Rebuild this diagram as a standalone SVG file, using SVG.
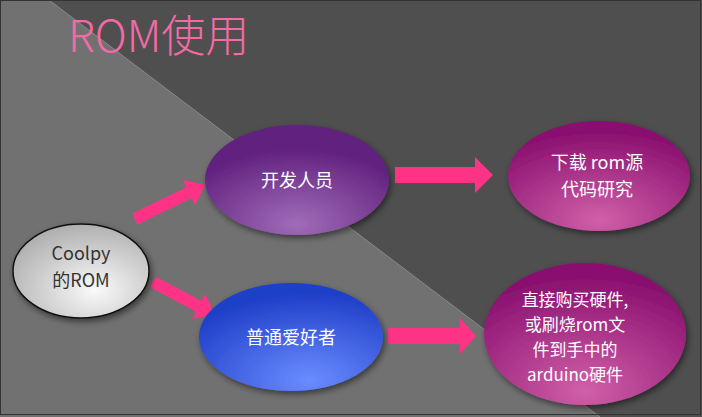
<svg xmlns="http://www.w3.org/2000/svg" width="702" height="417" viewBox="0 0 702 417">
<defs>
<radialGradient id="g" cx="0.6" cy="0.7" r="0.7"><stop offset="0" stop-color="#fafafa"/><stop offset="1" stop-color="#b0b0b0"/></radialGradient>
<radialGradient id="p" cx="0.5" cy="0.9" r="0.7"><stop offset="0" stop-color="#a06cb8"/><stop offset="1" stop-color="#60207e"/></radialGradient>
<radialGradient id="m" cx="0.5" cy="0.9" r="0.8"><stop offset="0" stop-color="#d060a8"/><stop offset="1" stop-color="#8a1070"/></radialGradient>
<radialGradient id="b" cx="0.6" cy="0.9" r="0.8"><stop offset="0" stop-color="#6a8cff"/><stop offset="1" stop-color="#1f3fc8"/></radialGradient>
<filter id="sh"><feDropShadow dx="2" dy="3" stdDeviation="3" flood-opacity="0.5"/></filter>
</defs>
<style>
.t{font-family:"Noto Sans CJK SC","Noto Sans",sans-serif;fill:#fff;font-size:18px;text-anchor:middle}
.s{font-size:17px}
.ar{fill:#ff3385}
</style>
<rect width="702" height="417" fill="#717171"/>
<polygon points="49,0 702,0 702,417 600,417" fill="#4f4f4f"/>
<line x1="49" y1="0" x2="600" y2="417" stroke="#8a8a8a" stroke-width="1"/>
<rect x="0.5" y="0.5" width="700" height="414" fill="none" stroke="#333"/>
<text x="68" y="52" font-family="'Noto Sans CJK SC',sans-serif" font-size="44" font-weight="300" fill="#f46aa4">ROM使用</text>
<g id="connectors">
<polygon class="ar" points="0,-6 60,-6 60,-14 78,0 60,14 60,6 0,6" transform="translate(135,219) rotate(-26)"/>
<polygon class="ar" points="0,-6 52,-6 52,-14 70,0 52,14 52,6 0,6" transform="translate(153,282) rotate(28)"/>
<polygon class="ar" points="0,-8 80,-8 80,-18 98,0 80,18 80,8 0,8" transform="translate(395,175)"/>
<polygon class="ar" points="0,-8 72,-8 72,-18 88,0 72,18 72,8 0,8" transform="translate(388,336)"/>
</g>
<g id="coolpy"><ellipse cx="81" cy="271" rx="68" ry="47" fill="url(#g)" stroke="#111" stroke-width="1.5" filter="url(#sh)"/>
<text class="t" x="81" y="260" style="fill:#333">Coolpy</text><text class="t" x="81" y="287" style="fill:#333">的ROM</text></g>
<g id="dev"><ellipse cx="297" cy="180" rx="92" ry="55" fill="url(#p)" filter="url(#sh)"/><text class="t" x="297" y="187">开发人员</text></g>
<g id="dl"><ellipse cx="599" cy="176" rx="91" ry="55" fill="url(#m)" filter="url(#sh)"/><text class="t" x="597" y="169">下载 rom源</text><text class="t" x="597" y="196">代码研究</text></g>
<g id="fan"><ellipse cx="291" cy="337" rx="92" ry="54" fill="url(#b)" filter="url(#sh)"/><text class="t" x="291" y="344">普通爱好者</text></g>
<g id="buy"><ellipse cx="585" cy="334" rx="101" ry="71" fill="url(#m)" filter="url(#sh)"/>
<text class="t s" x="575" y="306">直接购买硬件,</text><text class="t s" x="575" y="331">或刷烧rom文</text><text class="t s" x="575" y="356">件到手中的</text><text class="t s" x="575" y="381">arduino硬件</text></g>
</svg>
